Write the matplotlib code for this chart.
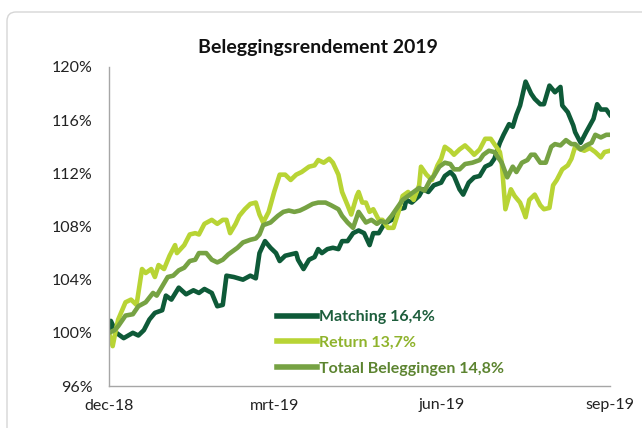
import numpy as np
import pandas as pd
import matplotlib
matplotlib.use('Agg')
import matplotlib.pyplot as plt
from matplotlib.patches import FancyBboxPatch

plt.rcParams['font.family'] = ['Lato', 'DejaVu Sans']

start = pd.Timestamp('2018-12-31')

# dagen na start, rendement in %
matching_dag = [0, 1, 4, 8, 13, 16, 19, 22, 25, 29, 31, 34, 38, 42, 46, 49, 52, 56, 59, 62,
                64, 68, 73, 77, 80, 82, 85, 88, 91, 93, 96, 99, 102, 103, 106, 109, 112, 114, 116, 119,
                122, 125, 127, 130, 133, 136, 139, 142, 144, 147, 150, 154, 158, 161, 162, 165, 169, 171, 174, 177,
                181, 183, 186, 188, 191, 193, 196, 199, 202, 205, 208, 210, 213, 215, 218, 220, 222, 224, 227, 230,
                232, 235, 237, 240, 243, 246, 247, 250, 253, 254, 257, 260, 264, 266, 268, 271, 273]
matching = [100.0, 100.9, 100.0, 99.6, 100.0, 99.8, 100.2, 101.0, 101.5, 101.7, 102.8, 102.5, 103.4, 102.9, 103.2, 103.0, 103.3, 103.0, 102.0, 102.1,
            104.3, 104.2, 104.0, 104.3, 104.1, 106.0, 106.9, 106.4, 106.0, 105.4, 105.8, 105.9, 106.0, 105.5, 104.8, 105.5, 105.7, 106.3, 106.0, 106.3,
            106.4, 106.3, 106.9, 106.9, 107.5, 107.7, 107.5, 106.6, 107.5, 107.5, 108.2, 108.5, 109.3, 109.4, 110.0, 109.8, 110.3, 110.8, 110.6, 111.1,
            111.3, 111.8, 112.1, 111.8, 110.8, 110.4, 111.3, 111.7, 111.8, 112.5, 112.7, 113.1, 114.3, 114.9, 115.7, 115.5, 116.4, 117.1, 118.9, 118.0,
            117.6, 117.2, 117.2, 118.6, 118.1, 118.5, 117.1, 116.6, 115.6, 115.1, 114.3, 115.1, 116.1, 117.2, 116.8, 116.8, 116.4]

return_dag = [0, 2, 4, 5, 9, 12, 15, 18, 20, 23, 25, 27, 30, 33, 36, 37, 41, 44, 47, 49,
              52, 56, 59, 62, 64, 66, 69, 71, 74, 77, 80, 82, 84, 87, 90, 93, 96, 99, 102, 105,
              109, 112, 114, 117, 120, 122, 125, 127, 130, 132, 135, 136, 138, 140, 142, 144, 147, 149, 152, 155,
              158, 160, 163, 166, 169, 170, 173, 176, 179, 181, 183, 186, 188, 191, 194, 197, 199, 202, 205, 208,
              210, 213, 214, 216, 219, 221, 224, 226, 227, 229, 232, 235, 237, 240, 242, 244, 247, 250, 252, 254,
              257, 259, 262, 265, 268, 270, 273]
return_ = [100.0, 99.0, 100.4, 101.0, 102.3, 102.5, 102.1, 104.8, 104.5, 104.8, 104.2, 105.1, 104.8, 105.8, 106.6, 106.0, 106.6, 107.4, 107.5, 107.4,
           108.2, 108.5, 108.2, 108.5, 108.5, 107.5, 108.2, 108.8, 109.3, 109.7, 109.8, 108.9, 108.3, 109.1, 110.6, 111.9, 111.9, 111.5, 111.9, 112.1,
           112.5, 112.6, 113.0, 112.8, 113.1, 112.8, 111.9, 110.6, 109.6, 108.9, 110.3, 110.6, 109.8, 109.8, 109.1, 109.3, 108.5, 108.5, 107.9, 107.9,
           109.2, 110.3, 110.6, 110.0, 111.1, 112.5, 111.9, 111.5, 112.6, 113.1, 114.0, 113.7, 113.4, 113.8, 114.1, 113.7, 113.4, 113.8, 114.6, 114.6,
           114.2, 113.6, 112.8, 109.3, 110.8, 110.3, 109.8, 109.1, 108.7, 110.0, 110.4, 109.6, 109.3, 109.4, 111.1, 111.5, 112.3, 112.6, 113.1, 114.0,
           113.8, 113.7, 113.9, 113.6, 113.2, 113.6, 113.7]

totaal_dag = [0, 3, 5, 9, 13, 16, 20, 24, 26, 29, 32, 35, 38, 41, 44, 47, 49, 53, 56, 59,
              62, 65, 70, 73, 77, 80, 82, 84, 88, 92, 95, 98, 101, 104, 107, 111, 114, 118, 121, 125,
              127, 130, 133, 136, 138, 140, 143, 146, 148, 151, 154, 158, 160, 163, 166, 169, 172, 175, 177, 180,
              183, 186, 188, 191, 194, 198, 202, 204, 207, 210, 211, 214, 217, 220, 222, 225, 228, 230, 232, 235,
              238, 241, 243, 246, 249, 252, 254, 257, 260, 263, 265, 268, 271, 273]
totaal = [100.0, 100.2, 100.5, 101.3, 101.4, 102.0, 102.3, 103.0, 102.8, 103.5, 104.2, 104.3, 104.7, 104.9, 105.4, 105.5, 106.0, 106.0, 105.5, 105.3,
          105.5, 105.9, 106.4, 106.8, 107.0, 107.1, 107.4, 108.1, 108.3, 108.8, 109.1, 109.2, 109.1, 109.2, 109.4, 109.7, 109.8, 109.8, 109.6, 109.3,
          108.8, 108.3, 107.9, 109.1, 108.7, 108.3, 108.5, 108.2, 108.4, 108.3, 108.8, 109.6, 110.0, 110.3, 110.6, 110.9, 110.7, 111.5, 111.8, 112.5,
          112.8, 112.7, 112.3, 112.3, 112.7, 112.8, 113.0, 113.4, 113.7, 113.6, 113.4, 112.8, 111.7, 112.5, 112.1, 112.8, 113.0, 113.4, 113.4, 112.8,
          112.8, 114.0, 114.2, 114.1, 114.5, 114.2, 114.2, 113.8, 114.1, 114.3, 114.9, 114.7, 114.9, 114.9]

labels = ['Matching 16,4%', 'Return 13,7%', 'Totaal Beleggingen 14,8%']
kleuren = ['#0e5a38', '#b8d435', '#76a243']
tekstkleuren = ['#1d5e3c', '#8fb32c', '#5c8430']
tick_datums = ['2018-12-31', '2019-03-31', '2019-06-30', '2019-09-30']
tick_labels = ['dec-18', 'mrt-19', 'jun-19', 'sep-19']
y_ticks = [96, 100, 104, 108, 112, 116, 120]

fig = plt.figure(figsize=(6.42, 4.28), dpi=100)

# kaartrand met ronde hoek linksboven
kader = FancyBboxPatch((7 / 642, -0.2), 1.2, 1.2 - 12 / 428,
                       boxstyle='round,pad=0,rounding_size=0.014',
                       mutation_aspect=642 / 428,
                       transform=fig.transFigure, facecolor='none',
                       edgecolor='#d6d6d6', linewidth=1.0, zorder=-1)
fig.patches.append(kader)

ax = fig.add_axes([109 / 642, 1 - 386 / 428, (610 - 109) / 642, (386 - 67) / 428])
ax.set_facecolor('none')

reeksen = [(matching_dag, matching), (return_dag, return_), (totaal_dag, totaal)]
for (dagen, waarden), kleur, label in zip(reeksen, kleuren, labels):
    x = start + pd.to_timedelta(dagen, unit='D')
    ax.plot(x, waarden, color=kleur, linewidth=3.3, label=label, solid_joinstyle='round')

ax.set_xlim(pd.Timestamp(tick_datums[0]), pd.Timestamp(tick_datums[-1]))
ax.set_ylim(96, 120)
ax.set_xticks(pd.to_datetime(tick_datums))
ax.set_xticklabels(tick_labels)
ax.set_yticks(y_ticks)
ax.set_yticklabels([f'{v}%' for v in y_ticks])
ax.tick_params(axis='both', length=0, labelsize=11.5, colors='#222222')
ax.tick_params(axis='y', pad=12)
ax.tick_params(axis='x', pad=9)
for kant in ['top', 'right']:
    ax.spines[kant].set_visible(False)
for kant in ['left', 'bottom']:
    ax.spines[kant].set_color('#a6a6a6')
    ax.spines[kant].set_linewidth(1.0)

leg = ax.legend(loc='upper left', bbox_to_anchor=(277 / 642, 1 - 310 / 428),
                bbox_transform=fig.transFigure, frameon=False,
                borderaxespad=0, borderpad=0,
                handlelength=2.5, handletextpad=0.15, labelspacing=0.72,
                prop={'weight': 'bold', 'size': 11.5}, labelcolor=tekstkleuren)
for h in leg.get_lines():
    h.set_linewidth(4)

fig.text(318 / 642, 1 - 47 / 428, 'Beleggingsrendement 2019', ha='center', va='center',
         fontsize=14, fontweight='bold', color='#111111')

plt.savefig('out.png', dpi=100)
